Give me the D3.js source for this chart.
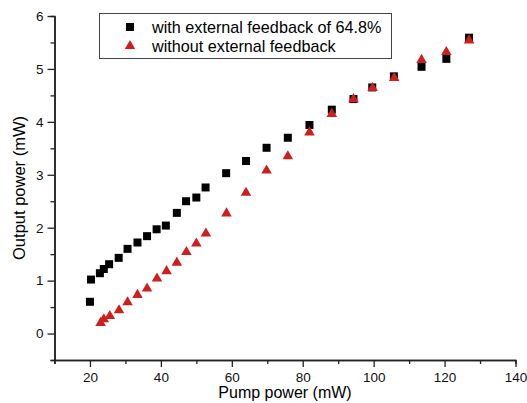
<!DOCTYPE html>
<html>
<head>
<meta charset="utf-8">
<script src="https://cdnjs.cloudflare.com/ajax/libs/d3/7.8.5/d3.min.js"></script>
<style>
  body { margin: 0; background: #fff; }
  svg { display: block; font-family: "Liberation Sans", Arial, sans-serif; }
</style>
</head>
<body>
<div id="chart"></div>
<script>
// pump power (mW) and output power (mW)
var pumpWith = [20, 20.3, 22.8, 23.9, 25.4, 28.1, 30.6, 33.4, 36.1, 38.8, 41.4, 44.5, 47.1, 50.0, 52.6, 58.4, 64.0, 69.8, 75.8, 81.9, 88.2, 94.3, 99.6, 105.7, 113.5, 120.5, 126.9]
var outWith = [0.60, 1.02, 1.14, 1.22, 1.31, 1.43, 1.60, 1.72, 1.84, 1.97, 2.04, 2.28, 2.50, 2.57, 2.76, 3.03, 3.26, 3.51, 3.70, 3.94, 4.23, 4.43, 4.65, 4.86, 5.04, 5.19, 5.59]

var pumpWithout = [23.0, 23.9, 25.6, 28.2, 30.6, 33.4, 36.1, 38.9, 41.6, 44.5, 47.2, 50.0, 52.7, 58.5, 64.0, 69.8, 75.8, 81.9, 88.2, 94.3, 99.7, 105.8, 113.5, 120.5, 126.9]
var outWithout = [0.20, 0.27, 0.33, 0.44, 0.59, 0.73, 0.85, 1.04, 1.18, 1.34, 1.54, 1.70, 1.89, 2.27, 2.66, 3.08, 3.35, 3.80, 4.15, 4.43, 4.64, 4.83, 5.17, 5.32, 5.54]

var xTicks = [20, 40, 60, 80, 100, 120, 140]
var yTicks = [0, 1, 2, 3, 4, 5, 6]
var seriesNames = ["with external feedback of 64.8%", "without external feedback"]

var width = 527, height = 403
var red = "#cc1f1f"

var x = d3.scaleLinear().domain([10, 140]).range([54.5, 515.5])
var y = d3.scaleLinear().domain([-0.5, 6]).range([360, 16])

var svg = d3.select("#chart").append("svg")
    .attr("width", width)
    .attr("height", height)

// minor ticks
svg.append("g")
    .attr("transform", "translate(0,360)")
    .call(d3.axisBottom(x).tickValues(d3.range(10, 140, 20)).tickSize(4).tickFormat(""))
svg.append("g")
    .attr("transform", "translate(54.5,0)")
    .call(d3.axisLeft(y).tickValues(d3.range(-0.5, 6, 1)).tickSize(4).tickFormat(""))

var xAxis = svg.append("g")
    .attr("transform", "translate(0,360)")
    .call(d3.axisBottom(x).tickValues(xTicks).tickSize(7).tickSizeOuter(0).tickPadding(5).tickFormat(d3.format("d")))
var yAxis = svg.append("g")
    .attr("transform", "translate(54.5,0)")
    .call(d3.axisLeft(y).tickValues(yTicks).tickSize(7).tickSizeOuter(0).tickPadding(4).tickFormat(d3.format("d")))

svg.selectAll(".domain").attr("stroke", "#222").attr("stroke-width", 1.5)
svg.selectAll(".tick line").attr("stroke", "#222").attr("stroke-width", 1.3)
svg.selectAll(".tick text").attr("font-size", 13.5).attr("fill", "#111")
    .style("font-family", "Liberation Sans, Arial, sans-serif")

// axis titles
svg.append("text")
    .attr("x", 285).attr("y", 398)
    .attr("text-anchor", "middle")
    .attr("font-size", 16)
    .text("Pump power (mW)")
svg.append("text")
    .attr("transform", "translate(25,188) rotate(-90)")
    .attr("text-anchor", "middle")
    .attr("font-size", 16.5)
    .text("Output power (mW)")

var sq = d3.symbol().type(d3.symbolSquare).size(64)
var tri = d3.symbol().type(d3.symbolTriangle).size(48)

svg.append("g").selectAll("path")
    .data(pumpWith)
    .join("path")
    .attr("d", sq)
    .attr("transform", (d, i) => "translate(" + x(d) + "," + y(outWith[i]) + ")")
    .attr("fill", "#000")

svg.append("g").selectAll("path")
    .data(pumpWithout)
    .join("path")
    .attr("d", tri)
    .attr("transform", (d, i) => "translate(" + x(d) + "," + y(outWithout[i]) + ")")
    .attr("fill", red)

// legend
var lg = svg.append("g")
lg.append("rect")
    .attr("x", 99.5).attr("y", 13.5)
    .attr("width", 292).attr("height", 45)
    .attr("fill", "#fff").attr("stroke", "#444").attr("stroke-width", 1)
lg.append("path").attr("d", sq).attr("transform", "translate(130,27)").attr("fill", "#000")
lg.append("path").attr("d", tri).attr("transform", "translate(130,46)").attr("fill", red)
lg.selectAll("text.lab")
    .data(seriesNames)
    .join("text")
    .attr("class", "lab")
    .attr("x", 152)
    .attr("y", (d, i) => 32.5 + i * 19)
    .attr("font-size", 16.2)
    .text(d => d)
</script>
</body>
</html>
